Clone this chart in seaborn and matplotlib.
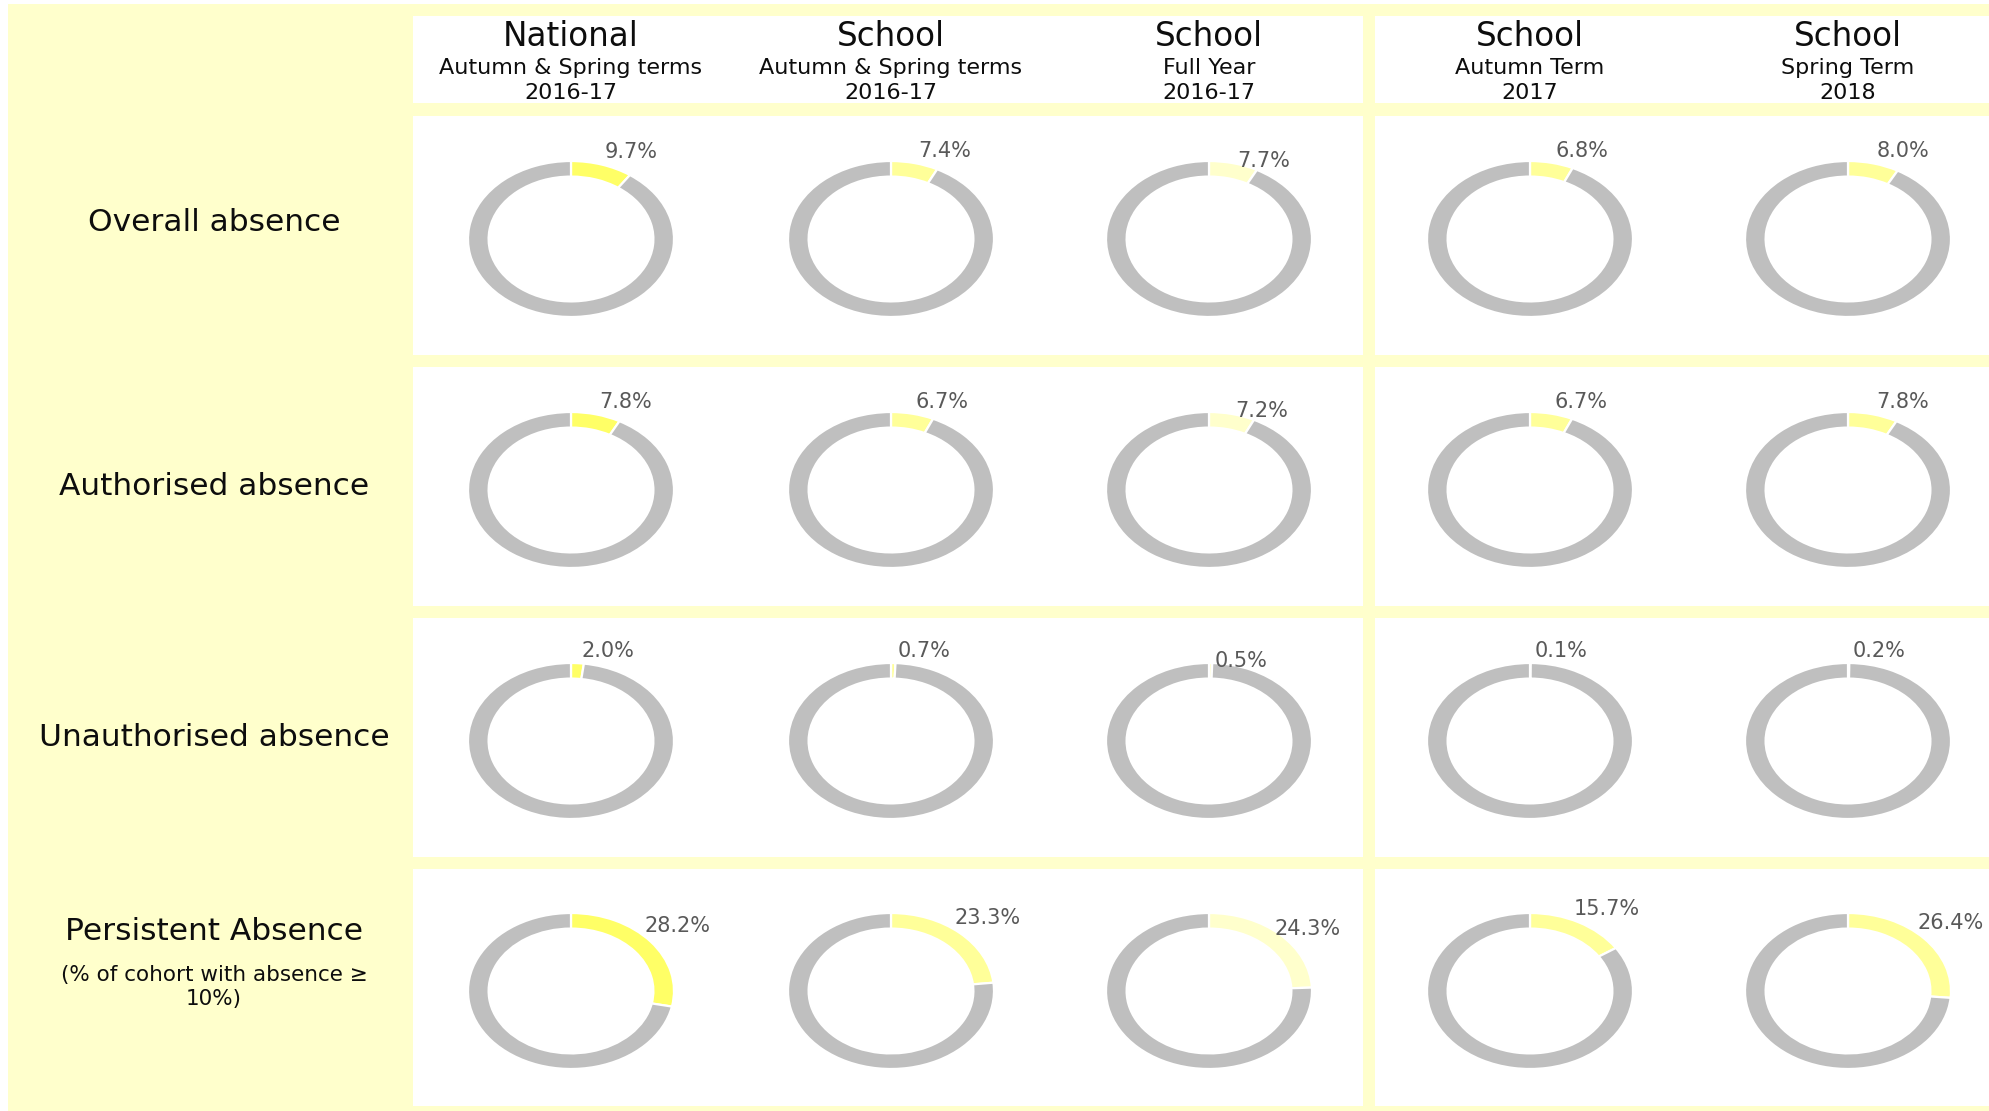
import numpy as np
import matplotlib
matplotlib.use("Agg")
import matplotlib.pyplot as plt
import seaborn as sns
from matplotlib.patches import Rectangle

sns.set_theme(style="white")
plt.rcParams['font.family'] = ['DejaVu Sans']

# ---------------- data ----------------
col_titles = ["National", "School", "School", "School", "School"]
col_sub1 = ["Autumn & Spring terms", "Autumn & Spring terms", "Full Year", "Autumn Term", "Spring Term"]
col_sub2 = ["2016-17", "2016-17", "2016-17", "2017", "2018"]
row_labels = ["Overall absence", "Authorised absence", "Unauthorised absence", "Persistent Absence"]
row_notes = ["", "", "", "(% of cohort with absence ≥\n10%)"]

overall = [9.7, 7.4, 7.7, 6.8, 8.0]
authorised = [7.8, 6.7, 7.2, 6.7, 7.8]
unauthorised = [2.0, 0.7, 0.5, 0.1, 0.2]
persistent = [28.2, 23.3, 24.3, 15.7, 26.4]
rows_values = [overall, authorised, unauthorised, persistent]

# ---------------- style / layout ----------------
W, H = 1989, 1111
BG = "#FFFFCC"
GREY = "#BFBFBF"
col_colors = ["#FFFF66", "#FFFF99", "#FFFFCC", "#FFFF99", "#FFFF99"]

col_cx = [571, 891, 1209, 1530, 1848]
label_dy = [0, 0, -0.12, 0, 0]
row_top = [116, 367, 618, 869]
row_bot = [355, 606, 857, 1106]
rx, ry = 103, 78

fig = plt.figure(figsize=(W / 100, H / 100), dpi=100)
fig.patch.set_facecolor("white")


def px_rect(x0, y0, x1, y1, color):
    fig.patches.append(Rectangle((x0 / W, 1 - y1 / H), (x1 - x0) / W, (y1 - y0) / H,
                                 transform=fig.transFigure, facecolor=color,
                                 edgecolor="none", zorder=-10))


def px_text(x, y, s, **kw):
    fig.text(x / W, 1 - y / H, s, ha="center", va="center", **kw)


# background
px_rect(8, 4, W, H, BG)
# header boxes
px_rect(413, 16, 1363, 103, "white")
px_rect(1375, 16, W, 103, "white")
# row boxes
for t, b in zip(row_top, row_bot):
    px_rect(413, t, 1363, b, "white")
    px_rect(1375, t, W, b, "white")

# headers
for j in range(5):
    px_text(col_cx[j], 37, col_titles[j], fontsize=23.5, color="#0D0D0D")
    px_text(col_cx[j], 68, col_sub1[j], fontsize=16, color="#0D0D0D")
    px_text(col_cx[j], 93, col_sub2[j], fontsize=16, color="#0D0D0D")

# row labels
label_y = [223, 487, 737, 932]
for i in range(4):
    px_text(214, label_y[i], row_labels[i], fontsize=22.5, color="#0D0D0D")
    if row_notes[i]:
        px_text(214, 987, row_notes[i], fontsize=15.5, color="#0D0D0D",
                linespacing=1.3)

# donuts
span = 1.55
for i, vals in enumerate(rows_values):
    cy = (row_top[i] + row_bot[i]) / 2 + 3.5
    for j, v in enumerate(vals):
        w_px, h_px = 2 * span * rx, 2 * span * ry
        ax = fig.add_axes([(col_cx[j] - w_px / 2) / W, 1 - (cy + h_px / 2) / H,
                           w_px / W, h_px / H], zorder=5)
        ax.patch.set_alpha(0)
        ax.pie([v, 100 - v], colors=[col_colors[j], GREY], startangle=90,
               counterclock=False, radius=1.0,
               wedgeprops=dict(width=0.2, edgecolor="white", linewidth=1.6))
        ax.set_aspect("auto")
        ax.set_xlim(-span, span)
        ax.set_ylim(-span, span)
        ax.axis("off")
        mid = np.deg2rad(90 - 3.6 * v / 2)
        lx = 0.3 + 0.95 * np.cos(mid)
        ly = 0.3 + 0.85 * np.sin(mid) + label_dy[j]
        ax.text(lx, ly, f"{v:.1f}%", ha="center", va="center", fontsize=15,
                color="#595959")

fig.savefig("out.png", dpi=100, facecolor=fig.get_facecolor())
